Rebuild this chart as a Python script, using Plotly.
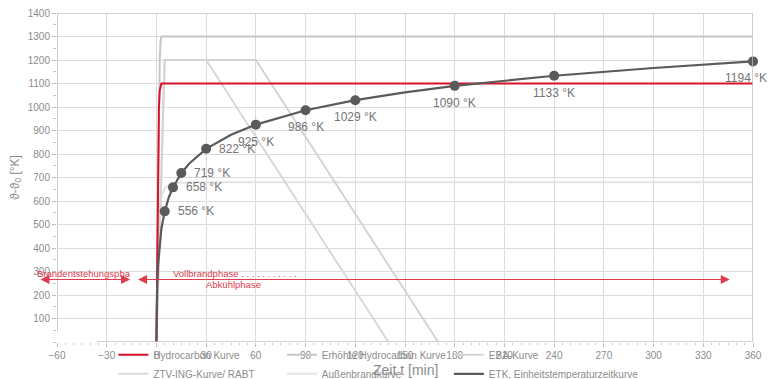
import plotly.graph_objects as go

# --- Brandkurven (Zeit in min, Temperaturerhöhung in K) ---
hc_t = [0, 1.0, 1.5, 2.0, 2.5, 3.0, 360]
hc_v = [0, 800, 1000, 1070, 1095, 1100, 1100]

ehc_t = [0, 1.5, 2.0, 2.5, 3.0, 360]
ehc_v = [0, 1000, 1200, 1280, 1300, 1300]

eba_t = [0, 5, 60, 170]
eba_v = [0, 1200, 1200, 0]

rabt_t = [0, 5, 30, 140]
rabt_v = [0, 1200, 1200, 0]

aussen_t = [0, 1, 2, 3, 5, 8, 12, 20, 360]
aussen_v = [0, 420, 560, 620, 655, 670, 677, 680, 680]

etk_t = [0, 0.1, 0.25, 0.5, 1, 2, 3, 5, 7.5, 10, 15, 20, 30, 45, 60, 90,
         120, 150, 180, 240, 300, 360]
etk_v = [0, 88, 165, 241, 329, 425, 482, 556, 616, 658, 719, 761, 822, 882,
         925, 986, 1029, 1062, 1090, 1133, 1166, 1194]

# beschriftete Stützstellen der ETK
etk_mark_t = [5, 10, 15, 30, 60, 90, 120, 180, 240, 360]
etk_mark_v = [556, 658, 719, 822, 925, 986, 1029, 1090, 1133, 1194]
etk_label_right = [True] * 4 + [False] * 6

x_ticks = [-60, -30, 0, 30, 60, 90, 120, 150, 180, 210, 240, 270, 300, 330, 360]
y_ticks = [100, 200, 300, 400, 500, 600, 700, 800, 900, 1000, 1100, 1200, 1300, 1400]

phase_y = 266

FONT = "Liberation Sans, Arial, sans-serif"
TXT = "#8c8c8c"
RED = "#d9112b"
ARED = "#e03a4c"

fig = go.Figure()

# Legendenspalten: legend = links, legend2 = Mitte, legend3 = rechts
fig.add_trace(go.Scatter(x=aussen_t, y=aussen_v, mode="lines", name="Außenbrandkurve",
                         line=dict(color="#e3e3e3", width=2), legend="legend2", legendrank=2))
fig.add_trace(go.Scatter(x=rabt_t, y=rabt_v, mode="lines", name="ZTV-ING-Kurve/ RABT",
                         line=dict(color="#d9d9d9", width=2), legend="legend", legendrank=2))
fig.add_trace(go.Scatter(x=eba_t, y=eba_v, mode="lines", name="EBA-Kurve",
                         line=dict(color="#d4d4d4", width=2), legend="legend3", legendrank=1))
fig.add_trace(go.Scatter(x=ehc_t, y=ehc_v, mode="lines", name="Erhöhte Hydrocarbon Kurve",
                         line=dict(color="#c6c6c6", width=2), legend="legend2", legendrank=1))
fig.add_trace(go.Scatter(x=hc_t, y=hc_v, mode="lines", name="Hydrocarbon Kurve",
                         line=dict(color=RED, width=2), legend="legend", legendrank=1))
fig.add_trace(go.Scatter(x=etk_t, y=etk_v, mode="lines", name="ETK, Einheitstemperaturzeitkurve",
                         line=dict(color="#5a5a5a", width=2.2), legend="legend3", legendrank=2))
fig.add_trace(go.Scatter(x=etk_mark_t, y=etk_mark_v, mode="markers", showlegend=False,
                         marker=dict(color="#5a5a5a", size=10),
                         cliponaxis=False, hoverinfo="skip"))

# Wertbeschriftungen der ETK
for t, v, right in zip(etk_mark_t, etk_mark_v, etk_label_right):
    if right:
        fig.add_annotation(x=t, y=v, text=f"{v} °K", showarrow=False, xanchor="left",
                           yanchor="middle", xshift=11,
                           font=dict(family=FONT, size=12, color="#747474"))
    else:
        fig.add_annotation(x=t, y=v, text=f"{v} °K", showarrow=False, xanchor="center",
                           yanchor="top", yshift=-8, xshift=(-7 if t == 360 else 0),
                           font=dict(family=FONT, size=12, color="#747474"))

# Rahmen
line_col = "#c0c0c0"
fig.add_shape(type="line", x0=-60, x1=360, y0=1400, y1=1400, line=dict(color=line_col, width=1.5))
fig.add_shape(type="line", x0=360, x1=360, y0=0, y1=1400, line=dict(color=line_col, width=1.5))
fig.add_shape(type="line", x0=-60, x1=-60, y0=40, y1=1400, line=dict(color=line_col, width=1.5))
fig.add_shape(type="line", x0=-36, x1=360, y0=0, y1=0, line=dict(color=line_col, width=1.5))

# Brandphasen
fig.add_annotation(x=-70, y=phase_y, ax=-15, ay=phase_y, axref="x", ayref="y",
                   text="", showarrow=True, arrowside="end+start", arrowhead=2,
                   arrowsize=1.8, arrowwidth=1, arrowcolor=ARED)
fig.add_annotation(x=346, y=phase_y, ax=-12, ay=phase_y, axref="x", ayref="y",
                   text="", showarrow=True, arrowside="end+start", arrowhead=2,
                   arrowsize=1.8, arrowwidth=1, arrowcolor=ARED)
fig.add_annotation(x=-44, y=phase_y + 27, text="Brandentstehungspha", showarrow=False,
                   font=dict(family=FONT, size=9.5, color=ARED))
fig.add_annotation(x=9, y=phase_y + 27, xanchor="left",
                   text="Vollbrandphase . . . . . . . . . . .", showarrow=False,
                   font=dict(family=FONT, size=9.5, color=ARED))
fig.add_annotation(x=29, y=phase_y - 20, xanchor="left", text="Abkühlphase", showarrow=False,
                   font=dict(family=FONT, size=9.5, color=ARED))

# Achsentitel
fig.add_annotation(x=0.5, y=-0.085, xref="paper", yref="paper", yanchor="middle",
                   text="Zeit t [min]", showarrow=False,
                   font=dict(family=FONT, size=14, color=TXT))
fig.add_annotation(x=-0.06, y=0.5, xref="paper", yref="paper", textangle=-90,
                   xanchor="center", text="ϑ-ϑ<sub>0</sub> [°K]", showarrow=False,
                   font=dict(family=FONT, size=12, color=TXT))

legend_style = dict(orientation="v", xanchor="left", yanchor="top", y=0.005,
                    bgcolor="rgba(0,0,0,0)", traceorder="normal",
                    font=dict(family=FONT, size=10, color=TXT), tracegroupgap=0,
                    itemwidth=30)

fig.update_layout(
    width=769, height=379,
    margin=dict(l=57, r=16, t=13, b=37, autoexpand=False),
    paper_bgcolor="white", plot_bgcolor="white",
    font=dict(family=FONT, size=10, color=TXT),
    xaxis=dict(range=[-60, 360], tickvals=x_ticks, showgrid=True, gridcolor="#dcdcdc",
               gridwidth=1, zeroline=False, showline=False, ticks="outside", ticklen=4,
               tickcolor="#c0c0c0", tickfont=dict(size=10, color=TXT), automargin=False,
               minor=dict(ticks="outside", dtick=5, ticklen=2, tickcolor="#c8c8c8", showgrid=False)),
    yaxis=dict(range=[0, 1400], tickvals=y_ticks, showgrid=True, gridcolor="#dcdcdc",
               gridwidth=1, zeroline=False, showline=False, ticks="outside", ticklen=4,
               tickcolor="#c0c0c0", tickfont=dict(size=10, color=TXT), automargin=False,
               minor=dict(ticks="outside", dtick=50, ticklen=3, tickcolor="#c8c8c8", showgrid=False)),
    legend=dict(legend_style, x=0.081),
    legend2=dict(legend_style, x=0.323),
    legend3=dict(legend_style, x=0.563),
    showlegend=True,
)

fig.write_html("out.html")
